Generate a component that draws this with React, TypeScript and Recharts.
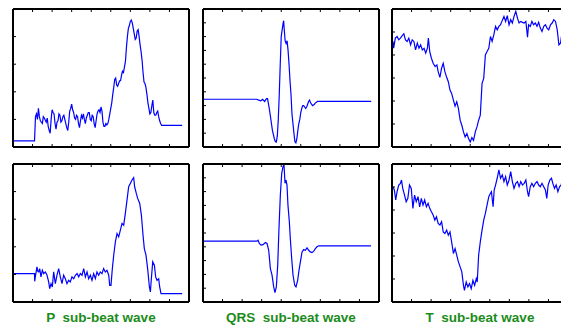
import React from 'react';
import { LineChart, Line, XAxis, YAxis } from 'recharts';

// shared tick positions (labels are hidden, only inward tick marks)
const xTicks = [0, 20, 40, 60, 80, 100, 120, 140, 160, 180];
const pTicks = [0, 20, 40, 60, 80, 100];
const qrsTicks = [0, 10, 20, 30, 40, 50, 60, 70, 80, 90, 100];
const tTicks = [0, 20, 40, 60, 80, 100, 120];

const waveNames = ['P  sub-beat wave', 'QRS  sub-beat wave', 'T  sub-beat wave'];

// [sample position, amplitude]
const pTop: [number, number][] = [
  [0, 4.4], [22, 4.4], [23, 22], [24, 24], [25, 20], [26, 28], [27, 22], [28, 19], [30, 17], [31, 22],
  [32, 21], [34, 18], [35, 21], [36, 15], [37, 12], [38, 10], [39, 20], [40, 27], [41, 25], [42, 24],
  [43, 17], [44, 13], [45, 18], [46, 19], [47, 24], [48, 23], [49, 18], [50, 19], [51, 22], [52, 23],
  [53, 20], [54, 17], [55, 14], [56, 12], [57, 18], [58, 26], [59, 28], [60, 31], [61, 27], [62, 25],
  [63, 21], [64, 20], [65, 23], [66, 22], [67, 17], [68, 14], [69, 19], [70, 23], [71, 21], [72, 24],
  [73, 20], [74, 17], [75, 21], [76, 23], [77, 25], [78, 25], [79, 20], [80, 19], [81, 23], [82, 22],
  [83, 17], [84, 14], [85, 19], [86, 24], [87, 26], [88, 27], [89, 25], [90, 29], [91, 26], [92, 18],
  [93, 15], [94, 15], [95, 17], [96, 16], [97, 17], [98, 20], [100, 28], [101, 32], [102, 38], [103, 43],
  [104, 49], [105, 50], [106, 45], [107, 44], [108, 46], [109, 48], [110, 48], [111, 52], [112, 55], [113, 54],
  [114, 58], [115, 62], [116, 72], [117, 80], [118, 86], [119, 88], [120, 91], [121, 92], [122, 90], [123, 86],
  [124, 82], [125, 78], [126, 79], [127, 84], [128, 85], [129, 80], [130, 74], [131, 69], [132, 63], [133, 54],
  [134, 47], [135, 46], [136, 43], [137, 38], [138, 32], [139, 28], [140, 24], [141, 25], [142, 30], [143, 34],
  [144, 25], [145, 23], [146, 23], [147, 25], [148, 26], [149, 22], [150, 19], [151, 17], [152, 15.7], [173, 15.7],
];

const pBottom: [number, number][] = [
  [0, 20.6], [22, 20.6], [22.2, 15], [23, 19], [24.5, 25.4], [25.5, 22], [26.3, 21.8], [27.3, 24.2], [28.6, 18.2], [30, 23],
  [31.4, 20.6], [33.1, 21.8], [34.8, 19.4], [36.5, 14.5], [37.5, 9.7], [38.9, 13.3], [40.2, 10.9], [41.6, 21.8], [43.3, 13.3], [45, 19.4],
  [46.7, 24.2], [48.4, 18.2], [50.1, 13.3], [51.8, 19.4], [53.5, 16.9], [55.2, 13.3], [56.9, 15.7], [58.6, 14.5], [60.3, 18.2], [62.1, 16.9],
  [63.8, 19.4], [65.5, 20.6], [67.2, 18.2], [68.9, 20.6], [70.6, 19.4], [72.3, 24.2], [74, 18.2], [75.7, 21.8], [77.4, 16.9], [79.1, 19.4],
  [80.8, 15.7], [82.5, 20.6], [84.2, 16.9], [85.9, 21.8], [87.6, 19.4], [89.3, 21.8], [91, 20.6], [92.7, 24.2], [94.4, 21.8], [96.1, 23],
  [97.9, 19.4], [98.9, 12.1], [100.2, 12.1], [101.6, 24.2], [103, 33.9], [104.7, 43.6], [106.4, 49.6], [108.1, 47.2], [109.8, 52.1], [111.5, 56.9],
  [113.2, 55.7], [114.9, 64.2], [116.6, 73.8], [118.3, 83.5], [120, 85.9], [121.7, 88.4], [123.4, 90.1], [124.4, 83.5], [126.1, 78.7], [127.5, 75.1],
  [129.6, 71.4], [131.3, 63], [133, 48.4], [134.3, 38.7], [136, 33.9], [137.7, 24.2], [139.5, 10.9], [140.5, 7.3], [141.5, 16.9], [142.9, 29.1],
  [144.6, 26.6], [145.9, 18.2], [147.3, 15.7], [149, 16.9], [150, 10.9], [151.4, 6.1], [173, 6.1],
];

const qrsTop: [number, number][] = [
  [0, 34.6], [55, 34.6], [57, 34], [59, 33.5], [61, 34.5], [63, 33], [65, 35], [66, 35], [67, 31], [68, 27],
  [69, 22], [70, 17], [71, 12], [72, 9], [73, 6], [74, 4], [75, 3.6], [76, 8], [77, 20], [78, 38],
  [79, 60], [80, 80], [81, 85], [82, 90], [82.5, 91.5], [83, 86], [84, 77], [85, 75], [86, 77], [87, 70],
  [88, 60], [89, 48], [90, 38], [91, 24], [92, 17], [93, 10], [94, 4], [95, 3], [96, 6], [97, 12],
  [98, 17], [99, 20], [100, 25], [101, 28], [102, 30], [103, 30], [104, 29], [105, 28], [106, 29], [107, 31],
  [108, 33], [109, 34], [110, 32], [111, 31], [112, 30], [113, 30.5], [114, 31], [115, 32], [116, 32.5], [117, 33],
  [172, 33],
];

const qrsBottom: [number, number][] = [
  [0, 44.1], [55.2, 44.1], [56.3, 44.8], [57.6, 42.4], [59.3, 41.2], [61.4, 41.6], [63.8, 43.1], [65.5, 42.4], [67.2, 37.5], [68.9, 24.2],
  [70.6, 19.4], [72.3, 10.9], [73.6, 6.8], [75, 10.9], [76.4, 26.6], [77.7, 53.3], [79.1, 77.5], [80.5, 93.2], [81.8, 98.1], [82.8, 99.8],
  [83.9, 86], [84.9, 88.4], [85.9, 84.7], [86.9, 70.2], [88.3, 58.1], [89.3, 46], [90.7, 31.5], [92.1, 19.4], [93.8, 12.1], [95.1, 10.9],
  [96.8, 15.7], [98.2, 23], [99.6, 29.1], [101.3, 36.3], [103, 38], [104.7, 37.5], [106.4, 39.2], [108.1, 37.5], [109.8, 36.3], [111.5, 35.8],
  [113.2, 36.8], [114.9, 38.7], [116.6, 40], [118.3, 40.7], [171.8, 40.7],
];

const tTop: [number, number][] = [
  [1, 91.8], [1.7, 85.9], [3.4, 94.7], [5.2, 96.1], [6.9, 93.2], [8.6, 94.7], [10.3, 96.7], [12.1, 98.5], [13.8, 93.2], [15.5, 91.8],
  [17.2, 94.7], [19, 88.8], [20.7, 93.2], [22.4, 91.8], [24.1, 84.5], [25.9, 90.3], [27.6, 85.9], [29.3, 88.8], [31, 84.5], [32.8, 85.9],
  [34.5, 81.6], [36.2, 85.9], [37.2, 94.7], [38.6, 83], [40.3, 77.2], [42.1, 72.8], [44.1, 69.9], [45.9, 71.4], [47.2, 65.5], [49, 60.6],
  [50.7, 68.5], [52.4, 72.8], [54.1, 65.5], [55.9, 60.6], [57.6, 56.8], [59.3, 49.5], [61, 46.6], [62.8, 40.8], [64.5, 35.5], [66.2, 39.3],
  [67.9, 33.5], [69.7, 23.3], [71.4, 18.9], [73.1, 13.1], [74.8, 8.7], [76.6, 11.7], [78.3, 7.3], [80, 4.4], [81.7, 8.2], [83.4, 5.8],
  [85.2, 13.1], [86.9, 17.5], [88.6, 23.3], [90.3, 27.7], [92.1, 55.3], [93.8, 59.7], [95.5, 80.1], [97.2, 83], [99, 85.9], [100.7, 96.1],
  [102.4, 91.8], [104.1, 97.5], [105.9, 104.9], [107.6, 101.9], [109.3, 104.9], [111, 106.3], [112.8, 110.1], [114.5, 113.6], [116.2, 109.2], [117.9, 114.2],
  [119.7, 106.3], [121.4, 110.7], [123.1, 107.8], [124.8, 113.6], [126.6, 118], [128.3, 112.1], [130, 107.8], [131.7, 109.2], [133.4, 108.4], [135.2, 107.8],
  [136.9, 109.2], [138.6, 95.5], [139.7, 106.3], [141.4, 104.9], [143.1, 109.2], [144.8, 106.3], [146.6, 107.8], [148.3, 104.9], [150, 108.4], [151.7, 103.4],
  [153.4, 100.5], [155.2, 104.9], [156.9, 106.3], [158.6, 103.4], [160.3, 101.9], [162.1, 106.3], [163.8, 107.8], [165.5, 110.7], [167.2, 109.2], [169, 101.9],
  [170.7, 88.8], [172.4, 90.3], [173.4, 96.7],
];

const tBottom: [number, number][] = [
  [1, 100.3], [2.4, 97.4], [3.8, 88.7], [5.2, 95.9], [6.9, 101.7], [8.6, 103.2], [9.7, 106.1], [11, 98.8], [12.8, 93], [14.5, 87.2],
  [16.2, 90.1], [17.9, 101.7], [19.7, 98.8], [21.4, 81.4], [23.1, 93], [24.8, 87.2], [26.6, 91.6], [28.3, 82.8], [30, 90.1], [31.7, 84.3],
  [33.4, 88.7], [35.2, 82.8], [36.9, 85.8], [38.6, 81.4], [40.3, 78.5], [42.1, 75.6], [43.8, 71.2], [45.5, 74.1], [47.2, 68.3], [49, 66.9],
  [50.7, 69.8], [52.4, 61], [54.1, 59.6], [55.9, 62.5], [57.6, 58.1], [59.3, 61], [61, 52.3], [62.8, 42.2], [64.5, 46.5], [66.2, 40.7],
  [67.9, 34.9], [69.7, 30.5], [71.4, 26.2], [73.1, 14.5], [74.1, 10.2], [75.9, 17.4], [77.6, 13.1], [79.3, 16], [81, 11.6], [82.8, 18.9],
  [84.5, 14.5], [86.2, 20.3], [87.2, 17.4], [88.6, 40.7], [90.3, 52.3], [92.1, 62.5], [93.8, 71.2], [95.5, 77], [97.2, 84.3], [99, 91.6],
  [100.7, 94.5], [101.7, 95.9], [103.4, 82.8], [104.5, 97.4], [105.9, 101.7], [107.6, 107.6], [109.3, 114.8], [111, 107.6], [112.8, 110.5], [114.5, 104.7],
  [116.2, 109], [117.9, 101.7], [119.7, 106.1], [121.4, 113.4], [123.1, 104.7], [124.8, 98.8], [126.6, 103.2], [128.3, 104.7], [130, 100.3], [131.7, 104.7],
  [133.4, 101.7], [135.2, 103.2], [136.9, 106.1], [138.6, 95.9], [139.7, 91.6], [141.4, 100.3], [143.1, 103.2], [144.8, 100.3], [146.6, 103.2], [148.3, 104.7],
  [150, 101.7], [151.7, 100.3], [153.4, 103.2], [155.2, 100.3], [156.9, 97.4], [158.3, 90.1], [159.7, 101.7], [161.4, 106.1], [163.1, 107.6], [164.5, 103.2],
  [166.2, 98.8], [167.9, 101.7], [169.7, 95.9], [171.4, 100.3], [173.1, 101.7], [174.5, 110.5],
];

const frame = { stroke: '#000', strokeWidth: 2 };
const tickMark = { stroke: '#000', strokeWidth: 1 };
const noLabel = () => '';

interface PanelProps {
  trace: [number, number][];
  yTicks: number[];
  left: number;
  top: number;
}

const Panel: React.FC<PanelProps> = ({ trace, yTicks, left, top }) => {
  const rows = trace.map(([t, v]) => ({ t, v }));
  const yDomain = [yTicks[0], yTicks[yTicks.length - 1]];
  return (
    <div style={{ position: 'absolute', left: left - 1, top: top - 1 }}>
      <LineChart width={178} height={140} data={rows} margin={{ top: 0, right: 0, bottom: 0, left: 0 }}>
        <XAxis xAxisId="b" dataKey="t" type="number" domain={[0, 180]} ticks={xTicks} interval={0}
          height={1} axisLine={frame} tickLine={tickMark} tickSize={-3} tickFormatter={noLabel} />
        <XAxis xAxisId="t" orientation="top" dataKey="t" type="number" domain={[0, 180]} ticks={xTicks} interval={0}
          height={1} axisLine={frame} tickLine={tickMark} tickSize={-3} tickFormatter={noLabel} />
        <YAxis yAxisId="l" type="number" domain={yDomain} ticks={yTicks} interval={0}
          width={1} axisLine={frame} tickLine={tickMark} tickSize={-3} tickFormatter={noLabel} />
        <YAxis yAxisId="r" orientation="right" type="number" domain={yDomain} ticks={yTicks} interval={0}
          width={1} axisLine={frame} tickLine={tickMark} tickSize={-3} tickFormatter={noLabel} />
        <Line xAxisId="b" yAxisId="l" type="linear" dataKey="v" stroke="#0000ff" strokeWidth={1.2}
          dot={false} isAnimationActive={false} />
      </LineChart>
    </div>
  );
};

const colLeft = [13, 203, 392];
const rowTop = [9, 164];

export default function App() {
  return (
    <div style={{ position: 'absolute', left: 0, top: 0, width: 561, height: 325, overflow: 'hidden', background: '#fff' }}>
      <Panel trace={pTop} yTicks={pTicks} left={colLeft[0]} top={rowTop[0]} />
      <Panel trace={qrsTop} yTicks={qrsTicks} left={colLeft[1]} top={rowTop[0]} />
      <Panel trace={tTop} yTicks={tTicks} left={colLeft[2]} top={rowTop[0]} />
      <Panel trace={pBottom} yTicks={pTicks} left={colLeft[0]} top={rowTop[1]} />
      <Panel trace={qrsBottom} yTicks={qrsTicks} left={colLeft[1]} top={rowTop[1]} />
      <Panel trace={tBottom} yTicks={tTicks} left={colLeft[2]} top={rowTop[1]} />
      {waveNames.map((name, i) => (
        <div key={name} style={{
          position: 'absolute', left: colLeft[i] - 20, width: 216, top: 311, textAlign: 'center',
          fontFamily: '"Liberation Sans", Arial, sans-serif', fontWeight: 'bold', fontSize: 13.5, lineHeight: '14px',
          color: '#1a8c1a', whiteSpace: 'pre',
        }}>
          {name}
        </div>
      ))}
    </div>
  );
}
